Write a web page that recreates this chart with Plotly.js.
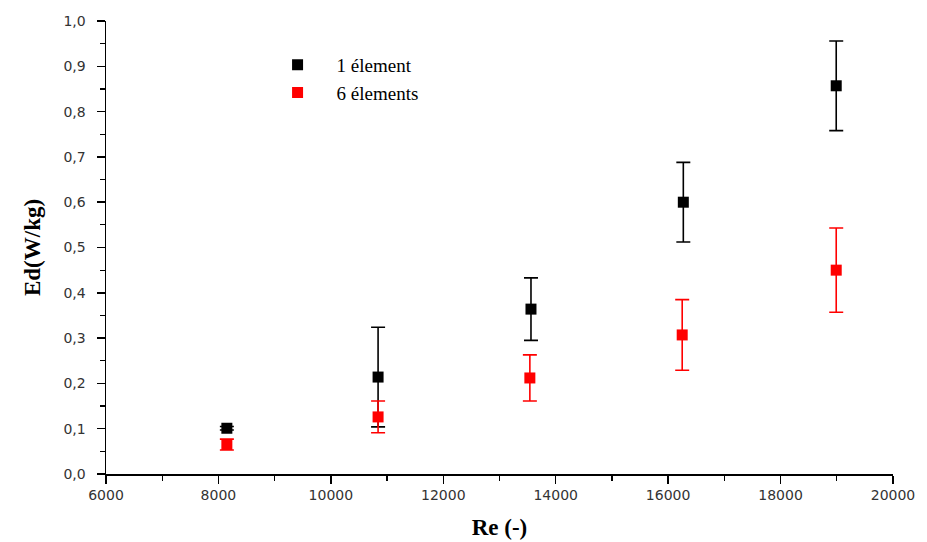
<!DOCTYPE html>
<html>
<head>
<meta charset="utf-8">
<script src="https://cdn.plot.ly/plotly-3.0.1.min.js"></script>
<style>html,body{margin:0;padding:0;background:#fff;}#chart{width:927px;height:542px;}</style>
</head>
<body>
<div id="chart"></div>
<script>
// Data
const reOne = [8150, 10840, 13560, 16270, 18990];
const edOne = [0.101, 0.214, 0.364, 0.600, 0.857];
const errOne = [0.004, 0.110, 0.069, 0.088, 0.099];

const reSix = [8150, 10840, 13540, 16250, 18990];
const edSix = [0.065, 0.126, 0.212, 0.307, 0.450];
const errSix = [0.012, 0.035, 0.051, 0.078, 0.093];

const seriesNames = ['1 élement', '6 élements'];
const NB = '\u00a0\u00a0\u00a0\u00a0';

const traces = [
  {
    x: reOne, y: edOne, type: 'scatter', mode: 'markers', name: NB + seriesNames[0],
    marker: {symbol: 'square', size: 11, color: '#000000'},
    error_y: {type: 'data', array: errOne, visible: true, color: '#000000', thickness: 1.6, width: 7}
  },
  {
    x: reSix, y: edSix, type: 'scatter', mode: 'markers', name: NB + seriesNames[1],
    marker: {symbol: 'square', size: 11, color: '#ff0000'},
    error_y: {type: 'data', array: errSix, visible: true, color: '#ff0000', thickness: 1.6, width: 7}
  }
];

const tickFont = {family: 'DejaVu Sans, sans-serif', size: 14, color: '#333'};
const titleFont = {family: 'Liberation Serif, Times New Roman, serif', size: 23, color: '#000', weight: 'bold'};

const layout = {
  width: 927, height: 542,
  paper_bgcolor: '#fff', plot_bgcolor: '#fff',
  margin: {l: 106, r: 34, t: 21, b: 68},
  separators: ',.',
  showlegend: true,
  legend: {
    x: 0.218, y: 0.945, xanchor: 'left', yanchor: 'top',
    bgcolor: 'rgba(0,0,0,0)',
    font: {family: 'Liberation Serif, Times New Roman, serif', size: 19, color: '#000'},
    tracegroupgap: 0
  },
  xaxis: {
    range: [6000, 20000], dtick: 2000, tick0: 6000,
    showgrid: false, zeroline: false,
    showline: true, linecolor: '#000', linewidth: 1.5,
    ticks: 'outside', ticklen: 8, tickwidth: 1.5, tickcolor: '#000',
    tickformat: 'd',
    minor: {dtick: 1000, ticks: 'outside', ticklen: 5, tickwidth: 1.2, tickcolor: '#000', showgrid: false},
    tickfont: tickFont,
    title: {text: 'Re (-)', font: titleFont, standoff: 16}
  },
  yaxis: {
    range: [0, 1.0], dtick: 0.1, tick0: 0,
    showgrid: false, zeroline: false,
    showline: true, linecolor: '#000', linewidth: 1.5,
    ticks: 'outside', ticklen: 8, tickwidth: 1.5, tickcolor: '#000',
    tickformat: '.1f',
    minor: {dtick: 0.05, ticks: 'outside', ticklen: 5, tickwidth: 1.2, tickcolor: '#000', showgrid: false},
    tickfont: tickFont,
    ticklabelstandoff: 8,
    title: {text: 'Ed(W/kg)', font: titleFont, standoff: 16}
  }
};

Plotly.newPlot('chart', traces, layout, {displayModeBar: false, staticPlot: true});
</script>
</body>
</html>
